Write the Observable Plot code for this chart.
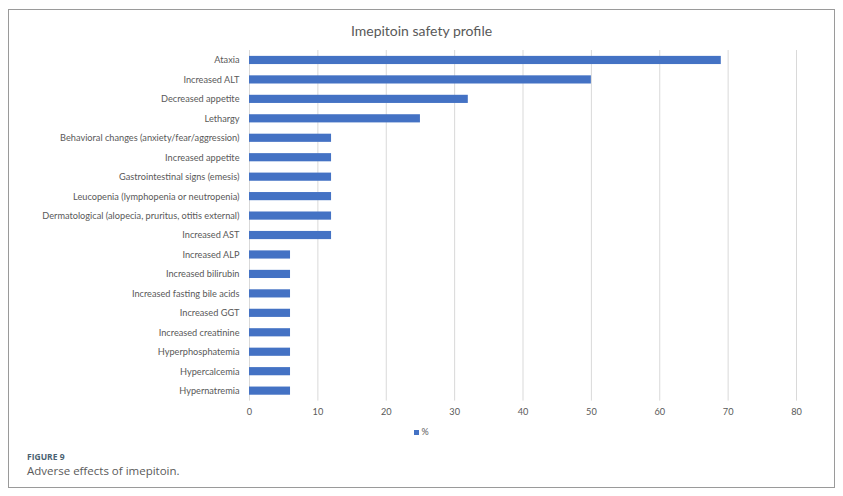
<!DOCTYPE html>
<html>
<head>
<meta charset="utf-8">
<script src="https://cdn.jsdelivr.net/npm/d3@7"></script>
<script src="https://cdn.jsdelivr.net/npm/@observablehq/plot@0.6"></script>
<style>
  html, body { margin: 0; padding: 0; background: #fff; }
  #page { position: relative; width: 843px; height: 496px; overflow: hidden; }
  #frame { position: absolute; left: 8px; top: 9px; width: 825px; height: 477px; border: 1.5px solid #9a9a9a; }
  #title { position: absolute; left: 0; width: 843px; top: 22px; text-align: center; font-family: Lato, sans-serif; font-size: 14px; color: #595959; }
  #chart { position: absolute; left: 0; top: 40px; }
  #legend { position: absolute; left: 0; width: 843px; top: 426px; text-align: center; font-family: Lato, sans-serif; font-size: 9px; color: #595959; }
  #legend span.sw { display: inline-block; width: 5px; height: 5px; background: #4472C4; margin-right: 2px; vertical-align: 0px; }
  #fig { position: absolute; left: 27px; top: 451px; font-family: "Open Sans", sans-serif; font-size: 8.5px; font-weight: 700; color: #4a6272; }
  #cap { position: absolute; left: 27px; top: 463px; font-family: "Open Sans", sans-serif; font-size: 11.5px; color: #5a5a5a; }
</style>
</head>
<body>
<div id="page">
  <div id="frame"></div>
  <div id="title">Imepitoin safety profile</div>
  <div id="chart"></div>
  <div id="legend"><span class="sw"></span>%</div>
  <div id="fig">FIGURE 9</div>
  <div id="cap">Adverse effects of imepitoin.</div>
</div>
<script>
const categories = [
  "Ataxia",
  "Increased ALT",
  "Decreased appetite",
  "Lethargy",
  "Behavioral changes (anxiety/fear/aggression)",
  "Increased appetite",
  "Gastrointestinal signs (emesis)",
  "Leucopenia (lymphopenia or neutropenia)",
  "Dermatological (alopecia, pruritus, otitis external)",
  "Increased AST",
  "Increased ALP",
  "Increased bilirubin",
  "Increased fasting bile acids",
  "Increased GGT",
  "Increased creatinine",
  "Hyperphosphatemia",
  "Hypercalcemia",
  "Hypernatremia"
];
const percents = [69, 50, 32, 25, 12, 12, 12, 12, 12, 12, 6, 6, 6, 6, 6, 6, 6, 6];
const xTicks = [0, 10, 20, 30, 40, 50, 60, 70, 80];

const data = categories.map((c, i) => ({category: c, value: percents[i]}));

const chart = Plot.plot({
  width: 843,
  height: 386,
  marginLeft: 249,
  marginRight: 47,
  marginTop: 4.6,
  marginBottom: 20,
  style: {fontFamily: "Lato, sans-serif", fontSize: "9.2px", color: "#595959", background: "transparent"},
  x: {domain: [0, 80], ticks: xTicks, label: null},
  y: {domain: categories, padding: 0.58, round: false, label: null},
  marks: [
    Plot.gridX(xTicks, {stroke: "#d9d9d9", strokeOpacity: 1, strokeWidth: 1, insetTop: 5.4, insetBottom: 5.4}),
    Plot.barX(data, {x: "value", y: "category", fill: "#4472C4"}),
    Plot.axisX({ticks: xTicks, tickSize: 0, tickPadding: 1.5, label: null, fill: "#595959"}),
    Plot.axisY({tickSize: 0, tickPadding: 10, label: null, fill: "#595959"})
  ]
});
document.getElementById("chart").appendChild(chart);
</script>
</body>
</html>
